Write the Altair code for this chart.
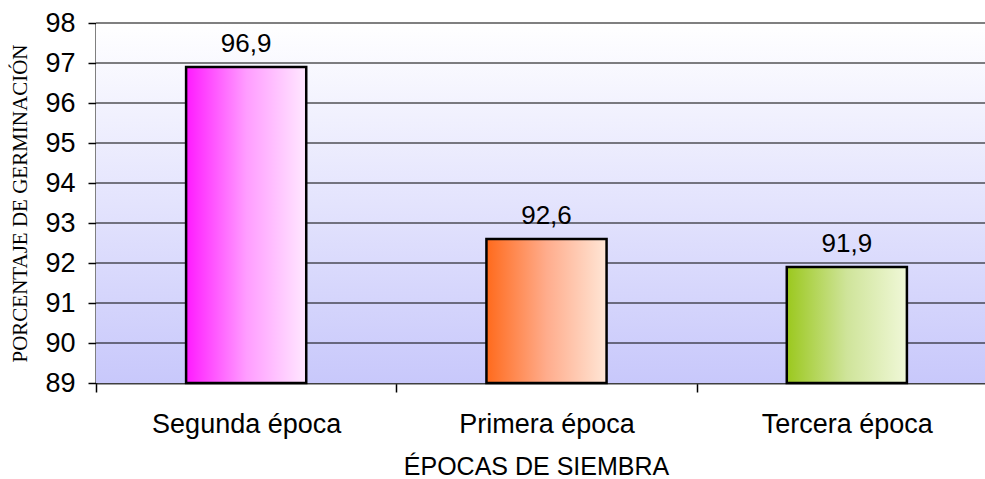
import altair as alt
import pandas as pd

# Germination percentage by sowing period
categories = ["Segunda época", "Primera época", "Tercera época"]
values = [96.9, 92.6, 91.9]
y_ticks = [89, 90, 91, 92, 93, 94, 95, 96, 97, 98]
grid_values = [90, 91, 92, 93, 94, 95, 96, 97]

bar_colors = {
    "Segunda época": ["#ff1aff", "#ff9cff", "#ffe8ff"],
    "Primera época": ["#ff6a1c", "#ffac8c", "#ffe6d6"],
    "Tercera época": ["#9bc81e", "#cfe49a", "#f0f8d8"],
}

W, H = 889, 360
X_RANGE = [0, 901]

df = pd.DataFrame({"epoca": categories, "valor": values})
grid_df = pd.DataFrame({"valor": grid_values})
top_df = pd.DataFrame({"valor": [98]})

x_scale = alt.Scale(domain=categories, range=X_RANGE, paddingInner=0, paddingOuter=0)
y_scale = alt.Scale(domain=[89, 98], zero=False, nice=False)

x_axis = alt.Axis(
    title="ÉPOCAS DE SIEMBRA",
    titleFont="Liberation Sans", titleFontSize=25, titleFontWeight="normal",
    titleColor="#000000", titleX=440, titleY=91, titleBaseline="alphabetic",
    titleAlign="center",
    labelFont="Liberation Sans", labelFontSize=27, labelColor="#000000",
    labelPadding=19, labelAngle=0, labelLimit=400,
    domainColor="#404040", domainWidth=2,
    tickBand="extent", tickColor="#000000", tickSize=9, tickWidth=1.5,
)

y_axis = alt.Axis(
    title="PORCENTAJE DE GERMINACIÓN",
    titleFont="Liberation Serif", titleFontSize=21, titleFontWeight="normal",
    titleColor="#000000", titleX=-76, titleY=H / 2, titleAngle=270,
    titleAlign="center", titleBaseline="middle",
    values=y_ticks, format="d",
    labelFont="Liberation Sans", labelFontSize=27, labelColor="#000000",
    labelPadding=13,
    domainColor="#000000", domainWidth=2,
    tickColor="#000000", tickSize=8, tickWidth=1.5,
    grid=False,
)

Y = alt.Y("valor:Q", scale=y_scale, axis=y_axis)
X = alt.X("epoca:N", scale=x_scale, sort=categories, axis=x_axis)

# plot background: vertical white-to-lavender gradient
background = alt.Chart(pd.DataFrame({"a": [0]})).mark_rect(
    color=alt.LinearGradient(
        gradient="linear", x1=0, x2=0, y1=0, y2=1,
        stops=[alt.GradientStop(offset=0, color="#ffffff"),
               alt.GradientStop(offset=1, color="#c8c8fb")],
    )
).encode(x=alt.value(0), x2=alt.value(W), y=alt.value(0), y2=alt.value(H))

grid = alt.Chart(grid_df).mark_rule(color="#000000", strokeWidth=1).encode(
    y=Y, x=alt.value(0), x2=alt.value(W),
)

top_line = alt.Chart(top_df).mark_rule(color="#808080", strokeWidth=2).encode(
    y=Y, x=alt.value(0), x2=alt.value(W),
)

layers = [background, grid, top_line]
for cat in categories:
    c0, c1, c2 = bar_colors[cat]
    grad = alt.LinearGradient(
        gradient="linear", x1=0, x2=1, y1=0, y2=0,
        stops=[alt.GradientStop(offset=0, color=c0),
               alt.GradientStop(offset=0.5, color=c1),
               alt.GradientStop(offset=1, color=c2)],
    )
    bar = alt.Chart(df).transform_filter(
        alt.datum.epoca == cat
    ).mark_bar(
        color=grad, stroke="#000000", strokeWidth=2.5,
        width=alt.RelativeBandSize(0.4),
    ).encode(x=X, y=Y, y2=alt.datum(89))
    layers.append(bar)

labels = alt.Chart(df).transform_calculate(
    etiqueta="replace(format(datum.valor, '.1f'), '.', ',')"
).mark_text(
    font="Liberation Sans", fontSize=26, color="#000000", dy=-15,
    baseline="alphabetic", align="center",
).encode(x=X, y=Y, text="etiqueta:N")
layers.append(labels)

chart = alt.layer(*layers).properties(
    width=W, height=H,
    autosize=alt.AutoSizeParams(type="none"),
    padding={"left": 96, "top": 23, "right": 0, "bottom": 96},
    background="#ffffff",
).configure_view(stroke=None)

chart.save("out.html", embed_options={"renderer": "svg", "actions": False})
